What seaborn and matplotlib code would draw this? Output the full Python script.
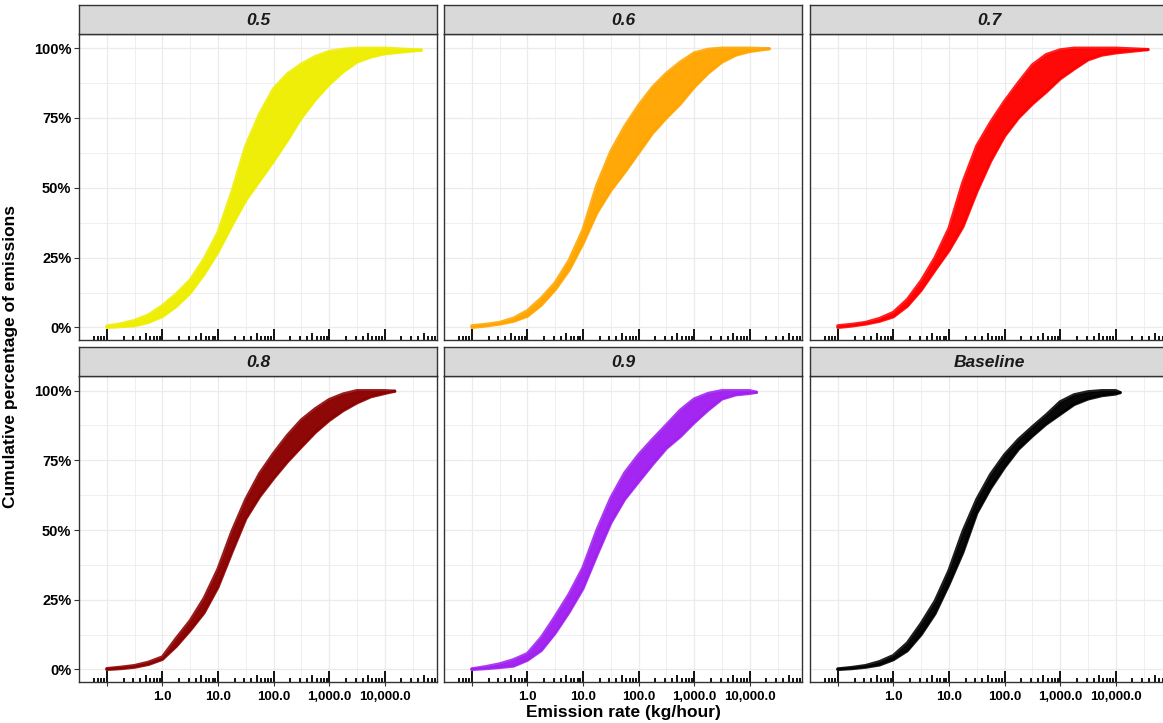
import numpy as np
import pandas as pd
import matplotlib
matplotlib.use('Agg')
import matplotlib.pyplot as plt
import seaborn as sns

# Emission rates (kg/hour) the curve bundles were read at (quarter decades)
emission = [0.1, 0.178, 0.316, 0.562, 1.0, 1.78, 3.16, 5.62, 10, 17.8, 31.6, 56.2,
            100, 178, 316, 562, 1000, 1778, 3162, 5623, 10000]

panels = ['0.5', '0.6', '0.7', '0.8', '0.9', 'Baseline']
colors = ['#EEEE00', '#FFA500', '#FF0000', '#8B0000', '#A020F0', '#000000']

# Upper / lower edge of each bundle of cumulative curves (percent of emissions)
upper_05 = [0.5, 1.3, 2.5, 4.5, 7.8, 12, 17, 24.5, 34, 48.5, 65, 76.5, 85.5, 90.8, 94.3, 97, 98.8, 99.6, 100, 100, 100]
lower_05 = [0, 0.3, 0.6, 1.8, 3.9, 7.5, 12.3, 19, 27, 36.5, 45.5, 52.5, 59.5, 67, 75, 81.5, 87, 91.5, 95, 96.8, 98]
upper_06 = [0.6, 1.1, 1.8, 3.3, 6, 10.5, 16, 24, 35, 51, 63, 72, 79.5, 86, 91, 95, 98.3, 99.6, 100, 100, 100]
lower_06 = [0, 0.5, 1.2, 2.2, 4, 8, 13.5, 20.5, 30, 41, 49, 55.5, 62.5, 69.5, 75, 80, 86, 91, 95, 97.5, 98.8]
upper_07 = [0.6, 1.1, 1.8, 3.2, 5.4, 10, 16.7, 25, 35.5, 52, 65, 73.5, 81, 87.7, 94, 97.7, 99.4, 100, 100, 100, 100]
lower_07 = [0, 0.5, 1.2, 2.2, 3.8, 7.6, 13.3, 20.5, 27.5, 36, 48.5, 59.5, 68.5, 75, 80, 84.3, 89, 92.5, 95.8, 97.5, 98.3]
upper_08 = [0.3, 0.8, 1.4, 2.6, 4.5, 11.2, 17.5, 25.5, 36, 49.5, 61, 70.3, 77.5, 84, 89.5, 93.5, 96.8, 98.8, 100, 100, 100]
lower_08 = [0, 0.3, 0.8, 1.8, 3.6, 8.3, 14, 20.3, 29.5, 42, 54, 62, 68.5, 74.5, 79.8, 85, 89.3, 92.8, 95.6, 97.8, 99]
upper_09 = [0.2, 1.0, 2.0, 3.5, 5.7, 11.5, 19, 27, 36.5, 50, 61.5, 70.5, 77, 82.5, 87.7, 93, 97, 99, 100, 100, 100]
lower_09 = [0, 0.3, 0.7, 1.2, 3.3, 6.8, 13, 20.5, 29, 41, 52.5, 61, 67.3, 73.5, 79.3, 83.5, 88.5, 93, 97, 98.5, 99]
upper_base = [0.2, 0.7, 1.4, 2.8, 5, 9.5, 16.5, 24.5, 35.5, 49.5, 61, 70, 77, 82.5, 87, 91.3, 96, 98.5, 99.6, 100, 100]
lower_base = [0, 0.3, 0.8, 1.6, 3.5, 6.7, 12.5, 20, 30.5, 42, 56, 65, 72.5, 79, 83.7, 88, 91.5, 95, 97, 98.2, 98.8]

# Where the longest curve in each bundle ends
end_x = [45700, 22400, 38000, 15100, 13200, 12000]
end_y = [99.3, 99.8, 99.5, 99.8, 99.4, 99.3]

uppers = [upper_05, upper_06, upper_07, upper_08, upper_09, upper_base]
lowers = [lower_05, lower_06, lower_07, lower_08, lower_09, lower_base]

rows = []
for p, up, lo, ex, ey in zip(panels, uppers, lowers, end_x, end_y):
    for edge, vals in (('upper', up), ('lower', lo)):
        for x, y in zip(emission + [ex], vals + [ey]):
            rows.append({'panel': p, 'edge': edge, 'emission': x, 'pct': y})
df = pd.DataFrame(rows)

sns.set_theme(style='white')
plt.rcParams['font.family'] = ['Liberation Sans', 'DejaVu Sans']
plt.rcParams['text.color'] = 'black'
plt.rcParams['xtick.color'] = '#333333'
plt.rcParams['ytick.color'] = '#333333'
plt.rcParams['xtick.labelcolor'] = 'black'
plt.rcParams['ytick.labelcolor'] = 'black'

W, H = 1163, 723
fig = plt.figure(figsize=(W / 100, H / 100), dpi=100)

col_left = [79, 444, 810]
panel_w = 358
row_strip = [(5, 33.5), (347, 376)]
row_panel_bottom = [340, 682]

major_x = [0.1, 1, 10, 100, 1000, 10000]
major_lab = ['', '1.0', '10.0', '100.0', '1,000.0', '10,000.0']
minor_x = [10 ** (k + 0.5) for k in range(-2, 5)]
xlim = (10 ** -1.278, 10 ** 4.94)
ylim = (-4.5, 105.25)
border = '#333333'

for i, (p, c) in enumerate(zip(panels, colors)):
    r, col = divmod(i, 3)
    left = col_left[col]
    s_top, s_bot = row_strip[r]
    p_bot = row_panel_bottom[r]
    ph = p_bot - s_bot

    ax = fig.add_axes([left / W, 1 - p_bot / H, panel_w / W, ph / H])
    sub = df[df['panel'] == p]
    up = sub[sub['edge'] == 'upper']
    lo = sub[sub['edge'] == 'lower']
    ax.fill_between(up['emission'].values, lo['pct'].values, up['pct'].values,
                    color=c, alpha=0.97, lw=0, zorder=3)
    sns.lineplot(data=sub, x='emission', y='pct', units='edge', estimator=None,
                 color=c, lw=2.3, alpha=0.88, ax=ax, legend=False, zorder=4)

    ax.set_xscale('log')
    ax.set_xlim(*xlim)
    ax.set_ylim(*ylim)
    ax.set_xticks(major_x)
    ax.set_xticks(minor_x, minor=True)
    ax.set_yticks([0, 25, 50, 75, 100])
    ax.set_yticks([12.5, 37.5, 62.5, 87.5], minor=True)
    ax.set_xlabel('')
    ax.set_ylabel('')
    ax.grid(which='major', color='#EBEBEB', lw=0.9, zorder=0)
    ax.grid(which='minor', color='#EBEBEB', lw=0.55, zorder=0)
    ax.set_axisbelow(True)
    for sp in ax.spines.values():
        sp.set_color(border)
        sp.set_linewidth(1.0)
        sp.set_zorder(6)

    ax.tick_params(which='minor', length=0)
    if r == 1:
        ax.set_xticklabels(major_lab, fontsize=9.5, fontweight='bold', color='black')
        ax.tick_params(axis='x', which='major', length=3, width=0.8, color=border,
                       pad=3.5, bottom=True)
    else:
        ax.tick_params(axis='x', which='major', length=0, labelbottom=False)
    if col == 0:
        ax.set_yticklabels(['0%', '25%', '50%', '75%', '100%'], fontsize=10.5,
                           fontweight='bold', color='black')
        ax.tick_params(axis='y', which='major', length=3.5, width=0.8, color=border,
                       pad=2, left=True)
    else:
        ax.tick_params(axis='y', which='major', length=0, labelleft=False)

    # log ticks along the bottom of each panel
    tick_x, tick_h = [], []
    for k in range(-2, 5):
        for m in range(1, 10):
            v = m * 10 ** k
            if xlim[0] <= v <= xlim[1]:
                tick_x.append(v)
                tick_h.append((11 if m == 1 else 7.5 if m == 5 else 4) / ph)
    for v, h in zip(tick_x, tick_h):
        ax.vlines(v, 0, h, transform=ax.get_xaxis_transform(), color='black',
                  lw=1.3, zorder=5)

    # facet strip
    sax = fig.add_axes([left / W, 1 - s_bot / H, panel_w / W, (s_bot - s_top) / H])
    sax.set_facecolor('#D9D9D9')
    sax.set_xticks([])
    sax.set_yticks([])
    for sp in sax.spines.values():
        sp.set_color(border)
        sp.set_linewidth(1.0)
    sax.text(0.5, 0.47, p, transform=sax.transAxes, ha='center', va='center',
             fontsize=12.5, fontweight='bold', fontstyle='italic', color='#1A1A1A')

fig.text(623 / W, 1 - 713 / H, 'Emission rate (kg/hour)', ha='center', va='center',
         fontsize=12.5, fontweight='bold', color='black')
fig.text(11 / W, 1 - 357 / H, 'Cumulative percentage of emissions', ha='center',
         va='center', rotation=90, fontsize=12.5, fontweight='bold', color='black')

fig.savefig('out.png', dpi=100)
